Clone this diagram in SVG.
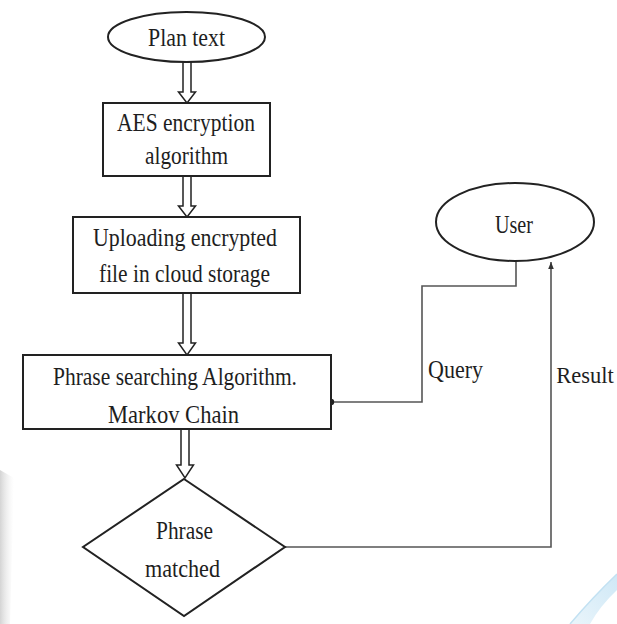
<svg xmlns="http://www.w3.org/2000/svg" width="617" height="624" viewBox="0 0 617 624">
  <defs>
    <style>
      .shape { fill: #ffffff; stroke: #222222; stroke-width: 2; }
      .lbl { font-family: "Liberation Serif", "Times New Roman", serif; font-size: 25px; fill: #1e1e1e; text-anchor: middle; }
      .dbl { fill: #ffffff; stroke: #222222; stroke-width: 1.5; stroke-linejoin: miter; }
      .wire { fill: none; stroke: #555555; stroke-width: 1.6; }
    </style>
    <marker id="headUp" viewBox="0 0 10 10" refX="10" refY="5" markerWidth="7" markerHeight="7" markerUnits="userSpaceOnUse" orient="auto">
      <path d="M0,1 L10,5 L0,9 Z" fill="#333333"/>
    </marker>
    <linearGradient id="greyBand" x1="0" y1="0" x2="1" y2="0">
      <stop offset="0" stop-color="#d4d4d4"/>
      <stop offset="1" stop-color="#eeeeee" stop-opacity="0"/>
    </linearGradient>
    <linearGradient id="blueSweep" x1="0" y1="1" x2="1" y2="0">
      <stop offset="0" stop-color="#eaf5fb"/>
      <stop offset="1" stop-color="#cfe8f6"/>
    </linearGradient>
  </defs>

  <rect width="617" height="624" fill="#ffffff"/>

  <!-- faint page decoration, lower corners -->
  <path d="M0,470 L14,478 L10,624 L0,624 Z" fill="url(#greyBand)"/>
  <path d="M570,624 Q592,598 617,574 L617,590 Q600,606 590,624 Z" fill="url(#blueSweep)"/>
  <path d="M570,624 Q592,598 617,574" fill="none" stroke="#c2e1f2" stroke-width="1.5"/>

  <!-- connectors -->
  <g id="connectors">
    <path class="dbl" d="M183,62 V92 H178.5 L187,103 L195.5,92 H191 V62"/>
    <path class="dbl" d="M183,176 V206 H178.5 L187,217 L195.5,206 H191 V176"/>
    <path class="dbl" d="M183,293 V343 H178.5 L187,355 L195.5,343 H191 V293"/>
    <path class="dbl" d="M181,429 V465 H176.5 L185,478 L193.5,465 H189 V429"/>
    <path class="wire" d="M516,261 V286 H422 V402 H331"/>
    <circle cx="331" cy="402" r="3.2" fill="#222222"/>
    <path class="wire" d="M285,547 H551 V262" marker-end="url(#headUp)"/>
    <text class="lbl" x="455.5" y="378" textLength="55" lengthAdjust="spacingAndGlyphs">Query</text>
    <text class="lbl" x="585" y="383" style="font-size:22.5px">Result</text>
  </g>

  <g id="plan-text">
    <ellipse class="shape" cx="186.5" cy="37" rx="78.5" ry="25"/>
    <text class="lbl" x="186.5" y="46" textLength="77" lengthAdjust="spacingAndGlyphs">Plan text</text>
  </g>

  <g id="aes">
    <rect class="shape" x="103" y="103" width="167" height="73"/>
    <text class="lbl" x="186" y="131" textLength="138" lengthAdjust="spacingAndGlyphs">AES encryption</text>
    <text class="lbl" x="186.5" y="164" textLength="83" lengthAdjust="spacingAndGlyphs">algorithm</text>
  </g>

  <g id="upload">
    <rect class="shape" x="73" y="217" width="227" height="76"/>
    <text class="lbl" x="185" y="246" textLength="184" lengthAdjust="spacingAndGlyphs">Uploading encrypted</text>
    <text class="lbl" x="184.5" y="282" textLength="171" lengthAdjust="spacingAndGlyphs">file in cloud storage</text>
  </g>

  <g id="phrase-search">
    <rect class="shape" x="23" y="355" width="308" height="74"/>
    <text class="lbl" x="175" y="385" textLength="244" lengthAdjust="spacingAndGlyphs">Phrase searching Algorithm.</text>
    <text class="lbl" x="173.5" y="423" textLength="131" lengthAdjust="spacingAndGlyphs">Markov Chain</text>
  </g>

  <g id="user">
    <ellipse class="shape" cx="515" cy="222" rx="79" ry="39"/>
    <text class="lbl" x="514" y="233" textLength="38" lengthAdjust="spacingAndGlyphs">User</text>
  </g>

  <g id="phrase-matched">
    <polygon class="shape" points="184,479 285,547 184,616 83,547"/>
    <text class="lbl" x="184.5" y="539" textLength="57" lengthAdjust="spacingAndGlyphs">Phrase</text>
    <text class="lbl" x="182.5" y="577" textLength="75" lengthAdjust="spacingAndGlyphs">matched</text>
  </g>
</svg>
